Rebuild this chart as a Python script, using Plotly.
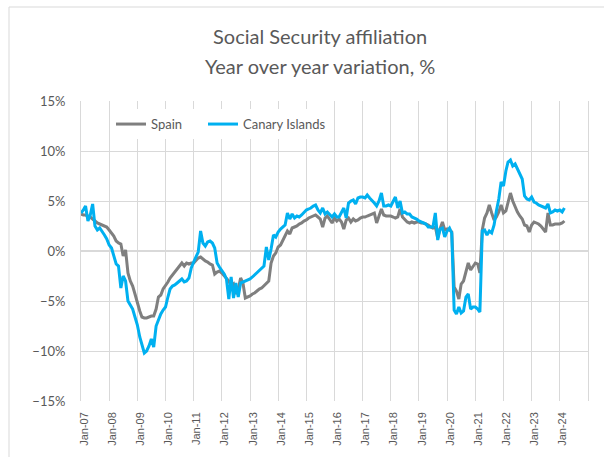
import pandas as pd
import plotly.graph_objects as go

# Monthly year-over-year variation (%), Jan-2007 .. Mar-2024
spain = [
    3.7, 3.6, 3.6, 3.5, 3.4, 3.2, 3.0, 2.8, 2.7, 2.6, 2.5, 2.4,          # 2007
    2.1, 1.8, 1.5, 1.0, 0.8, 0.7, -0.5, 0.1, -2.2, -3.0, -3.5, -4.3,     # 2008
    -5.3, -6.0, -6.6, -6.7, -6.7, -6.6, -6.5, -6.5, -5.8, -4.6, -4.4, -3.8,  # 2009
    -3.5, -3.1, -2.7, -2.4, -2.1, -1.8, -1.4, -1.2, -1.5, -1.2, -1.3, -1.2,  # 2010
    -1.2, -0.9, -0.7, -0.6, -0.8, -1.0, -1.1, -1.3, -1.4, -2.3, -2.1, -2.0,  # 2011
    -2.2, -2.5, -2.7, -3.0, -3.5, -3.3, -4.3, -3.8, -2.7, -3.2, -4.7, -4.6,  # 2012
    -4.5, -4.3, -4.2, -4.0, -3.8, -3.7, -3.5, -3.3, -3.0, -1.2, -0.5, -0.2,  # 2013
    0.4, 0.6, 1.0, 1.5, 2.0, 1.7, 2.3, 2.4, 2.5, 2.7, 2.8, 3.0,          # 2014
    3.1, 3.3, 3.4, 3.5, 3.6, 3.4, 3.2, 2.4, 3.3, 3.5, 3.1, 2.8,          # 2015
    3.3, 3.0, 3.2, 2.9, 2.2, 3.1, 3.3, 2.9, 3.2, 3.0, 3.1, 3.3,          # 2016
    3.4, 3.4, 3.5, 3.6, 3.7, 3.8, 2.8, 3.5, 4.2, 3.6, 3.5, 3.5,          # 2017
    3.5, 3.4, 3.3, 3.4, 4.2, 3.4, 3.1, 2.9, 2.8, 2.9, 2.8, 2.9,          # 2018
    2.9, 2.8, 2.8, 2.7, 2.6, 2.4, 2.3, 2.4, 1.3, 2.2, 2.9, 2.1,          # 2019
    2.2, 2.1, 1.9, -3.6, -4.0, -4.8, -3.3, -3.0, -2.0, -1.2, -1.9, -1.5, # 2020
    -1.2, -1.3, -2.2, 2.1, 3.3, 3.8, 4.6, 3.8, 3.1, 3.4, 3.9, 4.6,       # 2021
    3.8, 4.0, 5.0, 5.8, 5.0, 4.4, 3.9, 3.5, 3.2, 2.6, 2.5, 1.9,          # 2022
    2.6, 2.9, 2.8, 2.7, 2.5, 2.2, 1.9, 3.8, 2.6, 2.6, 2.7, 2.7,          # 2023
    2.7, 2.8, 3.0,                                                        # 2024
]

canary = [
    3.8, 4.1, 4.5, 3.0, 3.6, 4.7, 2.5, 2.1, 2.3, 2.0, 1.6, 1.2,          # 2007
    0.6, 0.3, -0.6, -1.3, -1.5, -3.7, -2.5, -3.0, -5.0, -5.4, -5.8, -6.6,  # 2008
    -7.4, -8.6, -9.5, -10.2, -10.0, -9.5, -8.8, -9.6, -7.5, -6.8, -6.3, -5.9,  # 2009
    -5.6, -4.6, -3.8, -3.5, -3.4, -3.2, -3.0, -2.8, -3.1, -3.0, -2.7, -1.7,  # 2010
    -1.1, -0.6, -0.1, 2.0, 0.8, 0.5, 0.9, 1.0, 0.8, 0.3, -1.2, -1.6,     # 2011
    -1.9, -2.3, -2.8, -4.8, -2.6, -4.7, -3.2, -4.6, -3.2, -3.1, -3.0, -2.9,  # 2012
    -2.8, -2.6, -2.4, -2.2, -2.0, -1.8, -1.5, 0.4, -0.9, 0.2, 1.6, 1.4,  # 2013
    1.9, 2.2, 2.4, 2.6, 3.8, 3.2, 3.7, 3.3, 3.5, 3.4, 3.6, 3.9,          # 2014
    4.1, 4.2, 4.3, 4.5, 4.6, 4.1, 3.8, 4.3, 3.7, 3.9, 3.6, 3.4,          # 2015
    3.7, 3.4, 3.4, 3.9, 4.3, 3.3, 4.8, 5.0, 5.1, 4.7, 5.3, 5.4,          # 2016
    5.4, 5.3, 5.6, 5.3, 5.1, 4.8, 4.5, 5.0, 5.8, 4.5, 4.5, 4.6,          # 2017
    4.5, 5.0, 5.4, 4.3, 5.0, 3.8, 3.9, 3.7, 3.7, 3.4, 3.3, 3.2,          # 2018
    3.0, 2.9, 2.8, 2.7, 2.4, 2.4, 2.4, 3.8, 1.1, 2.2, 2.3, 1.4,          # 2019
    2.0, 2.3, 1.8, -5.9, -6.3, -5.6, -6.2, -6.0, -4.6, -4.3, -5.8, -5.6, # 2020
    -5.6, -5.8, -6.1, 2.0, 2.1, 1.6, 2.0, 1.8, 2.6, 4.0, 5.2, 6.9,       # 2021
    6.5, 8.0, 8.9, 9.1, 8.5, 8.7, 8.2, 7.6, 7.2, 5.5, 5.2, 5.1,          # 2022
    5.4, 4.9, 4.8, 4.6, 4.5, 4.4, 4.3, 4.7, 3.8, 3.9, 4.1, 4.0,          # 2023
    4.1, 3.9, 4.3,                                                        # 2024
]

start_month = "2007-01-01"
months = pd.date_range(start_month, periods=len(spain), freq="MS")
tick_dates = pd.date_range("2007-01-01", "2024-01-01", freq="YS")

series_names = ["Spain", "Canary Islands"]
series_colors = ["#7f7f7f", "#00b0f0"]
legend_ids = ["legend", "legend2"]

title_lines = ["Social Security affiliation", "Year over year variation, %"]

TXT = "#595959"
GRID = "#d9d9d9"
BODY_FONT = "Lato"

fig = go.Figure()
for name, vals, col, lg in zip(series_names, [spain, canary], series_colors, legend_ids):
    fig.add_trace(go.Scatter(
        x=months, y=vals, mode="lines", name=name, legend=lg,
        line=dict(color=col, width=3),
    ))

legend_style = dict(
    orientation="h", xanchor="left", yanchor="middle", y=0.923,
    bgcolor="white", font=dict(family=BODY_FONT, size=13, color=TXT),
    itemwidth=30,
)

fig.update_layout(
    width=604, height=457,
    margin=dict(l=81, r=16, t=101, b=56),
    paper_bgcolor="white", plot_bgcolor="white",
    showlegend=True,
    legend=dict(legend_style, x=(111 - 81) / 507, entrywidth=50,
                entrywidthmode="pixels"),
    legend2=dict(legend_style, x=(203 - 81) / 507),
    xaxis=dict(
        type="date", range=["2007-01-01", "2025-01-01"],
        tickvals=tick_dates, tickformat="%b-%y",
        tickangle=-90, showgrid=True, gridcolor=GRID, gridwidth=1,
        showline=False, zeroline=False, ticks="",
        tickfont=dict(family="Liberation Sans, Arial", size=11, color=TXT),
        ticklabelstandoff=8, ticklabelshift=3,
    ),
    yaxis=dict(
        range=[-15, 15], dtick=5, tick0=0, ticksuffix="%",
        showgrid=True, gridcolor=GRID, gridwidth=1,
        zeroline=True, zerolinecolor=GRID, zerolinewidth=2,
        showline=True, mirror=True, linecolor=GRID, linewidth=1, ticks="",
        tickfont=dict(family=BODY_FONT, size=13, color=TXT),
        ticklabelstandoff=12,
    ),
)

for line, ypx in zip(title_lines, [36, 66]):
    fig.add_annotation(
        text=line, xref="paper", yref="paper",
        x=(320 - 81) / 507, y=(401 - ypx) / 300,
        xanchor="center", yanchor="middle", showarrow=False,
        font=dict(family=BODY_FONT, size=20, color=TXT),
    )

# outer chart border
fig.add_shape(
    type="rect", xref="paper", yref="paper",
    x0=(9 - 81) / 507, x1=1.06, y0=-0.2, y1=(401 - 7) / 300,
    line=dict(color=GRID, width=1), fillcolor="rgba(0,0,0,0)", layer="below",
)

fig.write_html("out.html", config={"displayModeBar": False},
               post_script="document.body.style.margin='0';")
